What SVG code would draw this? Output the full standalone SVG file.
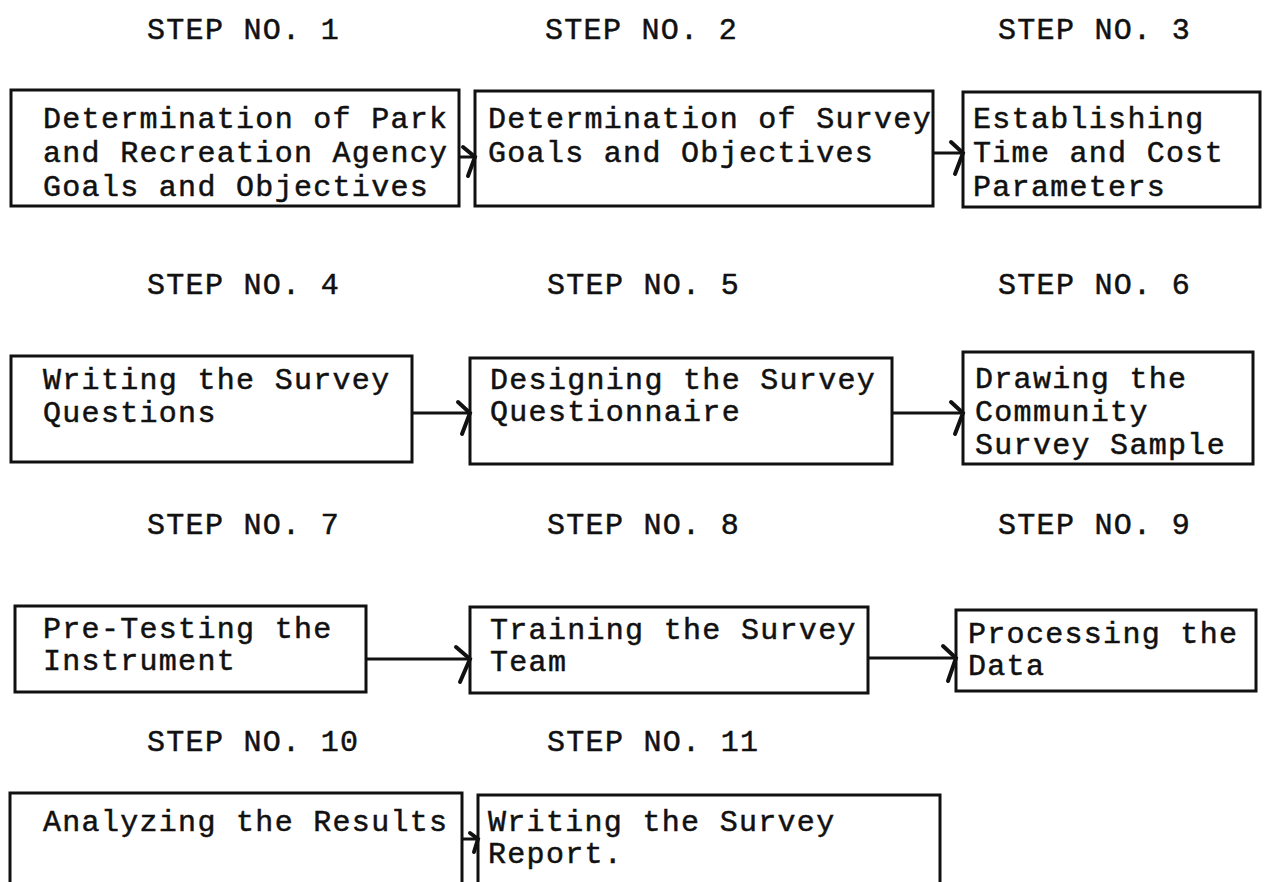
<svg xmlns="http://www.w3.org/2000/svg" width="1273" height="882" viewBox="0 0 1273 882">
<style>
text{font-family:"Liberation Mono","Courier New",monospace;font-size:30px;letter-spacing:1.3px;fill:#111;stroke:#111;stroke-width:0.5}
.box{fill:none;stroke:#111;stroke-width:3}
.ln{fill:none;stroke:#111;stroke-width:3}
.hd{fill:none;stroke:#111;stroke-width:4;stroke-linecap:round}
</style>
<rect width="1273" height="882" fill="#fff"/>
<g id="headings">
<text x="147" y="39">STEP NO. 1</text>
<text x="545" y="39">STEP NO. 2</text>
<text x="998" y="39">STEP NO. 3</text>
<text x="147" y="294">STEP NO. 4</text>
<text x="547" y="294">STEP NO. 5</text>
<text x="998" y="294">STEP NO. 6</text>
<text x="147" y="534">STEP NO. 7</text>
<text x="547" y="534">STEP NO. 8</text>
<text x="998" y="534">STEP NO. 9</text>
<text x="147" y="751">STEP NO. 10</text>
<text x="547" y="751">STEP NO. 11</text>
</g>
<g id="step1"><rect class="box" x="11" y="90" width="448" height="116"/>
<text x="43" y="128">Determination of Park</text><text x="43" y="162">and Recreation Agency</text><text x="43" y="196">Goals and Objectives</text></g>
<g id="step2"><rect class="box" x="475" y="91" width="458" height="115"/>
<text x="488" y="128">Determination of Survey</text><text x="488" y="162">Goals and Objectives</text></g>
<g id="step3"><rect class="box" x="963" y="92" width="297" height="115"/>
<text x="973" y="128">Establishing</text><text x="973" y="162">Time and Cost</text><text x="973" y="196">Parameters</text></g>
<g id="step4"><rect class="box" x="11" y="356" width="401" height="106"/>
<text x="43" y="389">Writing the Survey</text><text x="43" y="422">Questions</text></g>
<g id="step5"><rect class="box" x="470" y="358" width="422" height="106"/>
<text x="490" y="389">Designing the Survey</text><text x="490" y="421">Questionnaire</text></g>
<g id="step6"><rect class="box" x="963" y="352" width="290" height="112"/>
<text x="975" y="388">Drawing the</text><text x="975" y="421">Community</text><text x="975" y="454">Survey Sample</text></g>
<g id="step7"><rect class="box" x="15" y="606" width="351" height="86"/>
<text x="43" y="638">Pre-Testing the</text><text x="43" y="670">Instrument</text></g>
<g id="step8"><rect class="box" x="470" y="607" width="398" height="86"/>
<text x="490" y="639">Training the Survey</text><text x="490" y="671">Team</text></g>
<g id="step9"><rect class="box" x="956" y="610" width="300" height="81"/>
<text x="968" y="643">Processing the</text><text x="968" y="675">Data</text></g>
<g id="step10"><rect class="box" x="10" y="793" width="452" height="100"/>
<text x="43" y="831">Analyzing the Results</text></g>
<g id="step11"><rect class="box" x="478" y="795" width="462" height="100"/>
<text x="488" y="831">Writing the Survey</text><text x="488" y="863">Report.</text></g>
<g id="connectors">
<path class="ln" d="M459 157H475"/><path class="hd" d="M463 147L475 157L468 176"/>
<path class="ln" d="M933 153H963"/><path class="hd" d="M951 142L963 153L955 174"/>
<path class="ln" d="M412 413H470"/><path class="hd" d="M458 402L470 413L462 434"/>
<path class="ln" d="M892 413H963"/><path class="hd" d="M951 402L963 413L955 434"/>
<path class="ln" d="M366 659H470"/><path class="hd" d="M456 647L470 659L460 682"/>
<path class="ln" d="M868 658H956"/><path class="hd" d="M943 646L956 658L948 681"/>
<path class="ln" d="M462 839H478"/><path class="hd" d="M470 833L478 839L474 852"/>
</g>
</svg>
